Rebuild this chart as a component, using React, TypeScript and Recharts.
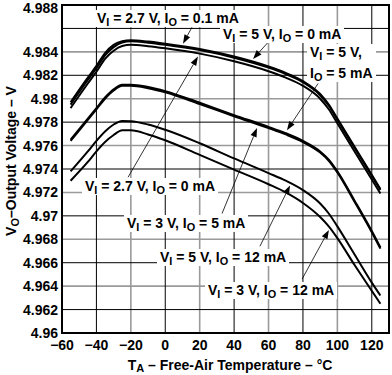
import React from "react";
import {
  LineChart,
  Line,
  XAxis,
  YAxis,
  CartesianGrid,
  ReferenceLine,
  ReferenceArea,
} from "recharts";

// temperatures (°C) where the curves were read
const temps = [-55, -45, -40, -35, -30, -25, -20, -10, 0, 20, 40, 60, 70, 80, 90, 95, 100, 110, 120, 125];

// output voltage (V) per curve
const vi27Io01 = [4.9797, 4.9818, 4.9828, 4.9839, 4.9846, 4.9849, 4.985, 4.98488, 4.9847, 4.98425, 4.9836, 4.98275, 4.9822, 4.9815, 4.9804, 4.9795, 4.9783, 4.9759, 4.9735, 4.9723];
const vi5Io0 = [4.9795, 4.9816, 4.9826, 4.9837, 4.9844, 4.9848, 4.9849, 4.98478, 4.9846, 4.98415, 4.9835, 4.98265, 4.9821, 4.9814, 4.9803, 4.9794, 4.9782, 4.9758, 4.9734, 4.9722];
const vi27Io0 = [4.9792, 4.9813, 4.9823, 4.9834, 4.9841, 4.9845, 4.9846, 4.98448, 4.9843, 4.98385, 4.9832, 4.98235, 4.9818, 4.9811, 4.98, 4.9791, 4.9779, 4.9755, 4.9731, 4.9719];
const vi5Io5 = [4.9765, 4.9783, 4.9792, 4.9801, 4.9808, 4.9812, 4.9812, 4.981, 4.98065, 4.97965, 4.9786, 4.9776, 4.97705, 4.9764, 4.9755, 4.9748, 4.9738, 4.9713, 4.9687, 4.9673];
const vi3Io5 = [4.9764, 4.9782, 4.9791, 4.98, 4.9807, 4.9811, 4.9811, 4.9809, 4.98055, 4.97955, 4.9785, 4.9775, 4.97695, 4.9763, 4.9754, 4.9747, 4.9737, 4.9712, 4.9686, 4.9672];
const vi5Io12 = [4.9738, 4.9755, 4.9764, 4.9772, 4.9778, 4.9781, 4.97808, 4.9778, 4.97735, 4.9762, 4.9749, 4.97365, 4.973, 4.9722, 4.97105, 4.9702, 4.9691, 4.9667, 4.9643, 4.9632];
const vi3Io12 = [4.973, 4.9746, 4.9755, 4.9763, 4.9769, 4.9773, 4.9773, 4.97695, 4.97645, 4.9752, 4.97395, 4.9727, 4.972, 4.9711, 4.9699, 4.9691, 4.9681, 4.9658, 4.9636, 4.9625];

const xTicks = [-60, -40, -20, 0, 20, 40, 60, 80, 100, 120];
const yTicks = [4.96, 4.962, 4.964, 4.966, 4.968, 4.97, 4.972, 4.974, 4.976, 4.978, 4.98, 4.982, 4.984, 4.986, 4.988];

// grid alternates dark and light lines
const darkY = [4.962, 4.966, 4.97, 4.974, 4.978, 4.982, 4.986];
const lightY = [4.964, 4.968, 4.972, 4.976, 4.98, 4.984];
const darkX = [-40, 0, 40, 80, 120];
const lightX = [-20, 20, 60, 100];

// leader arrows: [fromT, fromV, tipT, tipV]
const arrows = [
  [15.5, 4.9861, 10.3, 4.9847],
  [60.9, 4.985, 51, 4.9834],
  [88.8, 4.9813, 70.7, 4.9773],
  [-21.6, 4.9733, 19, 4.9836],
  [33, 4.9702, 53.3, 4.9775],
  [55, 4.9674, 72.5, 4.9726],
  [79.5, 4.9646, 95.1, 4.9688],
];

const data = temps.map((t, i) => ({
  t,
  a: vi27Io01[i],
  b: vi5Io0[i],
  c: vi27Io0[i],
  d: vi5Io5[i],
  e: vi3Io5[i],
  f: vi5Io12[i],
  g: vi3Io12[i],
}));

const FONT = '"Liberation Sans", Arial, sans-serif';

const Arrow = (p: any) => {
  const { x1, y1, x2, y2 } = p;
  const ang = Math.atan2(y2 - y1, x2 - x1);
  const L = 9;
  const W = 3.2;
  const bx = x2 - L * Math.cos(ang);
  const by = y2 - L * Math.sin(ang);
  const pts = `${x2},${y2} ${bx - W * Math.sin(ang)},${by + W * Math.cos(ang)} ${bx + W * Math.sin(ang)},${by - W * Math.cos(ang)}`;
  return (
    <g>
      <line x1={x1} y1={y1} x2={bx} y2={by} stroke="#000" strokeWidth={0.8} />
      <polygon points={pts} fill="#000" />
    </g>
  );
};

const Sub = ({ children }: { children: React.ReactNode }) => (
  <span style={{ fontSize: "0.78em", position: "relative", top: "0.28em" }}>{children}</span>
);

const Tag = ({ x, y, children }: { x: number; y: number; children: React.ReactNode }) => (
  <div
    style={{
      position: "absolute",
      left: x - 3,
      top: y - 8,
      padding: "1px 3px",
      background: "#fff",
      fontFamily: FONT,
      fontWeight: 700,
      fontSize: 14,
      lineHeight: "14px",
      whiteSpace: "nowrap",
      color: "#000",
    }}
  >
    {children}
  </div>
);

const fmtX = (v: number) => (v < 0 ? "\u2212" + Math.abs(v) : String(v));
const fmtY = (v: number) => String(+v.toFixed(3));

export default function App() {
  const tickStyle = { fill: "#000", fontSize: 14, fontWeight: 700, fontFamily: FONT };
  const series = ["a", "b", "c", "d", "e", "f", "g"];
  return (
    <div style={{ position: "absolute", left: 0, top: 0, width: 392, height: 375, background: "#fff" }}>
      <LineChart width={392} height={375} data={data} margin={{ top: 5, right: 3, bottom: 0, left: 0 }}>
        <CartesianGrid stroke="#9a9a9a" strokeWidth={1.6} horizontalValues={lightY} verticalValues={lightX} />
        <CartesianGrid stroke="#000" strokeWidth={1} horizontalValues={darkY} verticalValues={darkX} />
        <XAxis
          dataKey="t"
          type="number"
          domain={[-60, 130]}
          ticks={xTicks}
          tickFormatter={fmtX}
          allowDataOverflow
          axisLine={false}
          tickLine={false}
          tickSize={4}
          tickMargin={3}
          height={42}
          tick={tickStyle}
        />
        <YAxis
          type="number"
          domain={[4.96, 4.988]}
          ticks={yTicks}
          tickFormatter={fmtY}
          allowDataOverflow
          axisLine={false}
          tickLine={false}
          tickSize={2}
          tickMargin={2}
          width={62}
          tick={tickStyle}
        />
        {series.map((k) => (
          <Line
            key={k}
            dataKey={k}
            type="monotone"
            stroke="#000"
            strokeWidth={2}
            dot={false}
            isAnimationActive={false}
          />
        ))}
        {arrows.map((a, i) => (
          <ReferenceLine
            key={i}
            segment={[{ x: a[0], y: a[1] }, { x: a[2], y: a[3] }]}
            ifOverflow="visible"
            shape={Arrow}
          />
        ))}
        <ReferenceArea
          x1={-60}
          x2={130}
          y1={4.96}
          y2={4.988}
          fill="none"
          stroke="#000"
          strokeWidth={2}
          fillOpacity={0}
          ifOverflow="visible"
        />
      </LineChart>

      <Tag x={97} y={18}>
        V<Sub>I</Sub> = 2.7 V, I<Sub>O</Sub> = 0.1 mA
      </Tag>
      <Tag x={223} y={34}>
        V<Sub>I</Sub> = 5 V, I<Sub>O</Sub> = 0 mA
      </Tag>
      <Tag x={310} y={52}>
        V<Sub>I</Sub> = 5 V,
        <br />
        <span style={{ display: "inline-block", marginTop: 6 }}>
          I<Sub>O</Sub> = 5 mA
        </span>
      </Tag>
      <Tag x={85} y={186}>
        V<Sub>I</Sub> = 2.7 V, I<Sub>O</Sub> = 0 mA
      </Tag>
      <Tag x={127} y={223}>
        V<Sub>I</Sub> = 3 V, I<Sub>O</Sub> = 5 mA
      </Tag>
      <Tag x={160} y={257}>
        V<Sub>I</Sub> = 5 V, I<Sub>O</Sub> = 12 mA
      </Tag>
      <Tag x={208} y={290}>
        V<Sub>I</Sub> = 3 V, I<Sub>O</Sub> = 12 mA
      </Tag>

      <svg width={392} height={375} style={{ position: "absolute", left: 0, top: 0, pointerEvents: "none" }}>
        <text
          x={230}
          y={370}
          textAnchor="middle"
          fontFamily={FONT}
          fontWeight={700}
          fontSize={14}
        >
          T<tspan fontSize={11} dy={2}>A</tspan>
          <tspan dy={-2}> – Free-Air Temperature – °C</tspan>
        </text>
        <text
          x={16}
          y={161}
          textAnchor="middle"
          fontFamily={FONT}
          fontWeight={700}
          fontSize={14}
          transform="rotate(-90 16 161)"
        >
          V<tspan fontSize={11} dy={3}>O</tspan>
          <tspan dy={-3}>–Output Voltage – V</tspan>
        </text>
      </svg>
    </div>
  );
}
